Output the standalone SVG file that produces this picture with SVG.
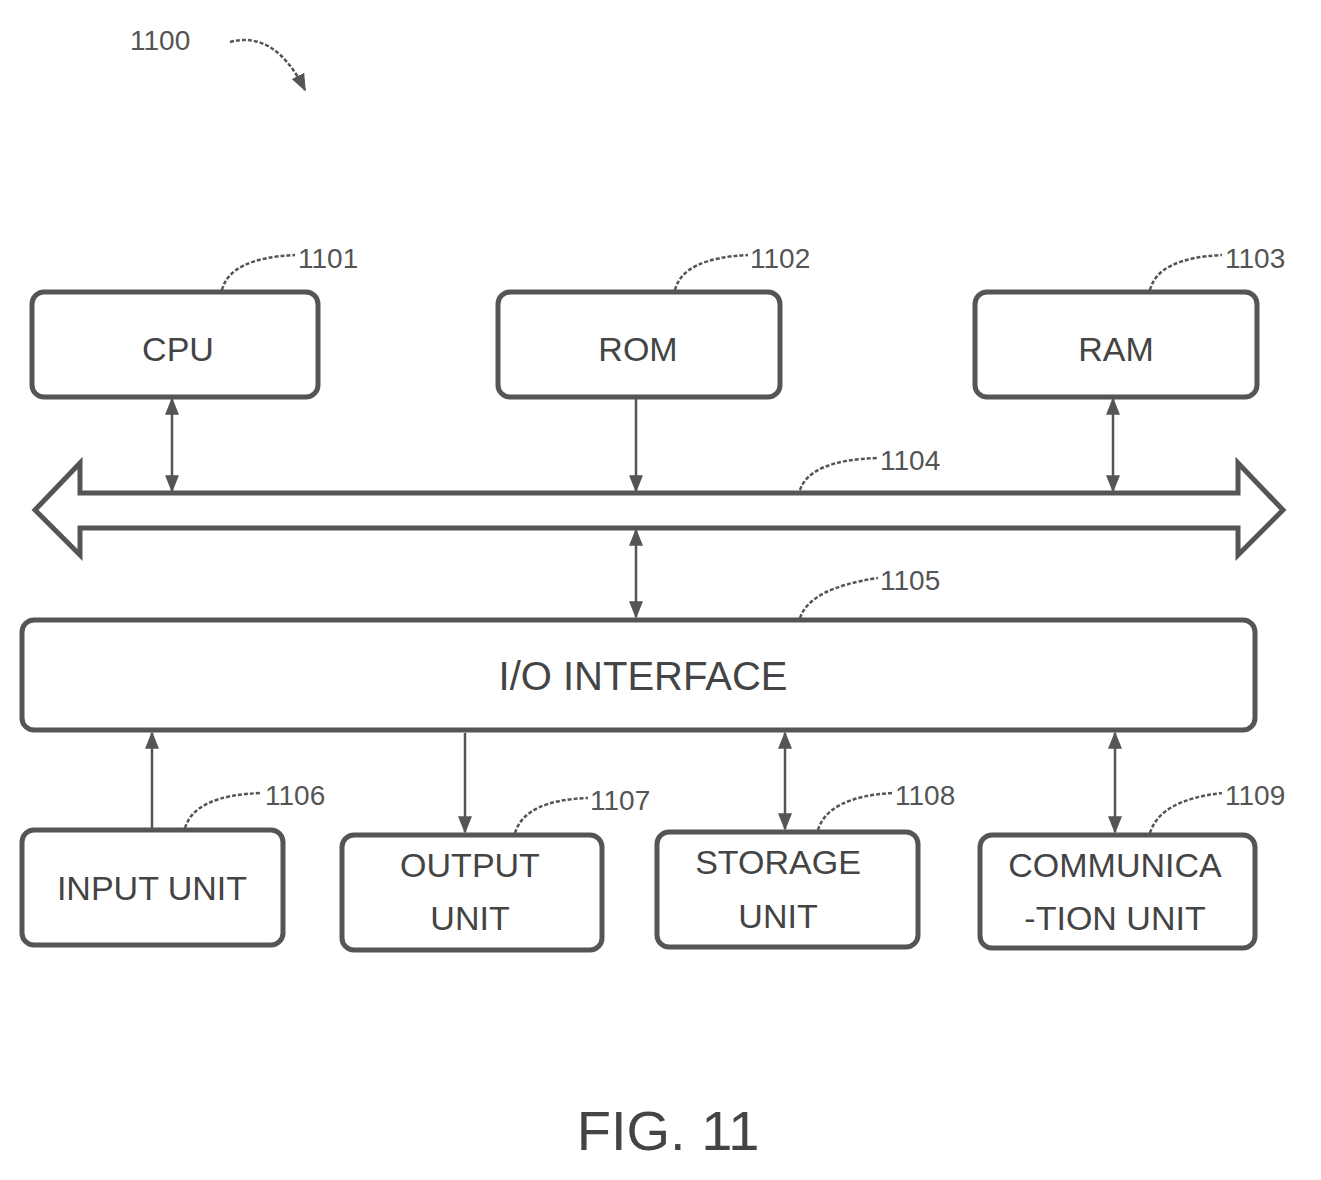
<svg xmlns="http://www.w3.org/2000/svg" width="1321" height="1180" viewBox="0 0 1321 1180">
<style>
.box{fill:#fff;stroke:#555;stroke-width:5}
.t{font-family:"Liberation Sans",Arial,sans-serif;font-size:34px;fill:#444;text-anchor:middle}
.r{font-family:"Liberation Sans",Arial,sans-serif;font-size:28px;fill:#555}
.c{fill:none;stroke:#555;stroke-width:2.5}
.ld{fill:none;stroke:#555;stroke-width:2.5;stroke-dasharray:4 2}
</style>
<defs>
<marker id="a" viewBox="0 0 10 10" refX="9" refY="5" markerWidth="7" markerHeight="7" orient="auto-start-reverse"><path d="M0,1 L10,5 L0,9 z" fill="#555"/></marker>
</defs>
<rect width="1321" height="1180" fill="#fff"/>
<g id="ref1100"><text class="r" x="130" y="50">1100</text><path class="ld" d="M230,42 Q275,30 305,90" marker-end="url(#a)"/></g>
<g id="cpu"><rect class="box" x="32" y="292" width="286" height="105" rx="12"/><text class="t" x="178" y="361">CPU</text><text class="r" x="298" y="268">1101</text><path class="ld" d="M222,290 Q230,258 295,255"/></g>
<g id="rom"><rect class="box" x="498" y="292" width="282" height="105" rx="12"/><text class="t" x="638" y="361">ROM</text><text class="r" x="750" y="268">1102</text><path class="ld" d="M675,290 Q683,258 748,255"/></g>
<g id="ram"><rect class="box" x="975" y="292" width="282" height="105" rx="12"/><text class="t" x="1116" y="361">RAM</text><text class="r" x="1225" y="268">1103</text><path class="ld" d="M1150,290 Q1158,258 1222,255"/></g>
<g id="bus"><path d="M35,510 L80,463 L80,493 L1238,493 L1238,463 L1283,510 L1238,555 L1238,528 L80,528 L80,555 Z" fill="#fff" stroke="#555" stroke-width="5"/><text class="r" x="880" y="470">1104</text><path class="ld" d="M800,490 Q810,460 878,458"/></g>
<g id="io"><rect class="box" x="22" y="620" width="1233" height="110" rx="12"/><text class="t" x="643" y="690" style="font-size:40px">I/O INTERFACE</text><text class="r" x="880" y="590">1105</text><path class="ld" d="M800,618 Q810,588 878,578"/></g>
<g id="input"><rect class="box" x="22" y="830" width="261" height="115" rx="12"/><text class="t" x="152" y="900">INPUT UNIT</text><text class="r" x="265" y="805">1106</text><path class="ld" d="M185,828 Q195,795 262,793"/></g>
<g id="output"><rect class="box" x="342" y="835" width="260" height="115" rx="12"/><text class="t" x="470" y="877">OUTPUT</text><text class="t" x="470" y="930">UNIT</text><text class="r" x="590" y="810">1107</text><path class="ld" d="M515,833 Q525,800 588,798"/></g>
<g id="storage"><rect class="box" x="657" y="832" width="261" height="115" rx="12"/><text class="t" x="778" y="874">STORAGE</text><text class="t" x="778" y="928">UNIT</text><text class="r" x="895" y="805">1108</text><path class="ld" d="M818,830 Q828,797 892,793"/></g>
<g id="comm"><rect class="box" x="980" y="835" width="275" height="113" rx="12"/><text class="t" x="1115" y="877">COMMUNICA</text><text class="t" x="1115" y="930">-TION UNIT</text><text class="r" x="1225" y="805">1109</text><path class="ld" d="M1150,833 Q1160,800 1222,793"/></g>
<g id="connectors">
<line class="c" x1="172" y1="399" x2="172" y2="491" marker-start="url(#a)" marker-end="url(#a)"/>
<line class="c" x1="636" y1="399" x2="636" y2="491" marker-end="url(#a)"/>
<line class="c" x1="1113" y1="399" x2="1113" y2="491" marker-start="url(#a)" marker-end="url(#a)"/>
<line class="c" x1="636" y1="530" x2="636" y2="617" marker-start="url(#a)" marker-end="url(#a)"/>
<line class="c" x1="152" y1="828" x2="152" y2="733" marker-end="url(#a)"/>
<line class="c" x1="465" y1="733" x2="465" y2="832" marker-end="url(#a)"/>
<line class="c" x1="785" y1="733" x2="785" y2="829" marker-start="url(#a)" marker-end="url(#a)"/>
<line class="c" x1="1115" y1="733" x2="1115" y2="832" marker-start="url(#a)" marker-end="url(#a)"/>
</g>
<text class="t" x="668" y="1150" style="font-size:56px">FIG. 11</text>
</svg>
